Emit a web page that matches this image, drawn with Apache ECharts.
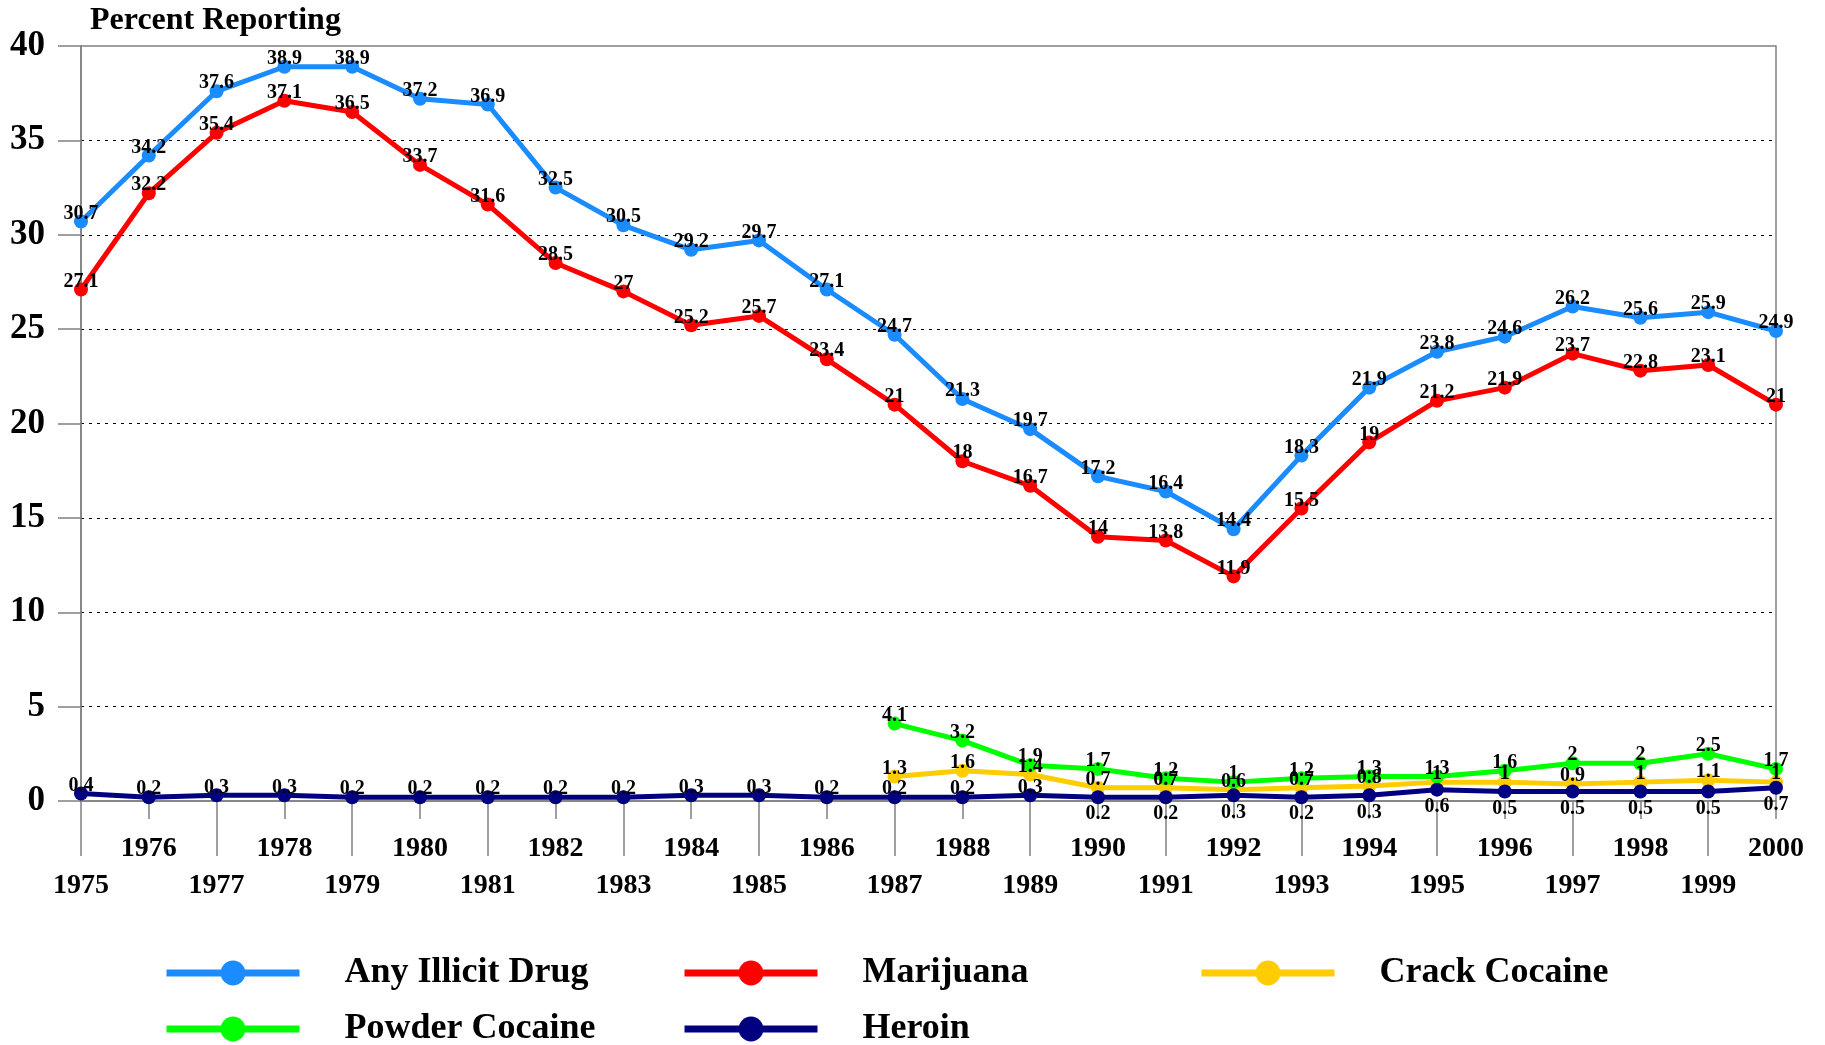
<!DOCTYPE html>
<html>
<head>
<meta charset="utf-8">
<title>Percent Reporting</title>
<script src="https://cdn.jsdelivr.net/npm/echarts@6/dist/echarts.min.js"></script>
<style>
  html, body { margin: 0; padding: 0; background: #fff; }
  #chart { width: 1825px; height: 1045px; }
</style>
</head>
<body>
<div id="chart"></div>
<script>
const years = ['1975', '1976', '1977', '1978', '1979', '1980', '1981', '1982', '1983', '1984',
  '1985', '1986', '1987', '1988', '1989', '1990', '1991', '1992', '1993', '1994',
  '1995', '1996', '1997', '1998', '1999', '2000'];

const anyIllicit = [30.7, 34.2, 37.6, 38.9, 38.9, 37.2, 36.9, 32.5, 30.5, 29.2,
  29.7, 27.1, 24.7, 21.3, 19.7, 17.2, 16.4, 14.4, 18.3, 21.9,
  23.8, 24.6, 26.2, 25.6, 25.9, 24.9];
const marijuana = [27.1, 32.2, 35.4, 37.1, 36.5, 33.7, 31.6, 28.5, 27, 25.2,
  25.7, 23.4, 21, 18, 16.7, 14, 13.8, 11.9, 15.5, 19,
  21.2, 21.9, 23.7, 22.8, 23.1, 21];
const crack = [null, null, null, null, null, null, null, null, null, null,
  null, null, 1.3, 1.6, 1.4, 0.7, 0.7, 0.6, 0.7, 0.8,
  1, 1, 0.9, 1, 1.1, 1];
const powder = [null, null, null, null, null, null, null, null, null, null,
  null, null, 4.1, 3.2, 1.9, 1.7, 1.2, 1, 1.2, 1.3,
  1.3, 1.6, 2, 2, 2.5, 1.7];
const heroin = [0.4, 0.2, 0.3, 0.3, 0.2, 0.2, 0.2, 0.2, 0.2, 0.3,
  0.3, 0.2, 0.2, 0.2, 0.3, 0.2, 0.2, 0.3, 0.2, 0.3,
  0.6, 0.5, 0.5, 0.5, 0.5, 0.7];

const FONT = '"Liberation Serif", "Times New Roman", serif';
const GRAY = '#808080';

const chart = echarts.init(document.getElementById('chart'));

const labelTop = {
  show: true,
  position: 'top',
  distance: -9,
  color: '#000',
  fontFamily: FONT,
  fontWeight: 'bold',
  fontSize: 20
};

function lineSeries(name, color, values, label) {
  return {
    name: name,
    type: 'line',
    data: values,
    symbol: 'circle',
    symbolSize: 14,
    connectNulls: false,
    lineStyle: { color: color, width: 5 },
    itemStyle: { color: color },
    label: label || labelTop,
    emphasis: { disabled: true },
    animation: false
  };
}

// heroin labels go below the points from 1990 on
const heroinData = heroin.map((v, i) => ({
  value: v,
  label: i >= 15 ? { position: 'bottom', distance: 0 } : {}
}));

function legendAt(name, left, top, color) {
  return {
    data: [name],
    left: left,
    top: top,
    itemWidth: 133,
    itemHeight: 31,
    selectedMode: false,
    lineStyle: { width: 7, color: color },
    itemStyle: { color: color },
    textStyle: {
      fontFamily: FONT,
      fontWeight: 'bold',
      fontSize: 36,
      color: '#000',
      padding: [0, 0, 0, 40]
    }
  };
}

const xLabelBase = {
  color: '#000',
  fontFamily: FONT,
  fontWeight: 'bold',
  fontSize: 28
};

chart.setOption({
  backgroundColor: '#fff',
  title: {
    text: 'Percent Reporting',
    left: 90,
    top: 5,
    padding: 0,
    textStyle: { fontFamily: FONT, fontWeight: 'bold', fontSize: 32, color: '#000' }
  },
  grid: {
    left: 81,
    right: 49,
    top: 46,
    bottom: 244,
    show: true,
    borderColor: GRAY,
    borderWidth: 1.5
  },
  legend: [
    legendAt('Any Illicit Drug', 158, 950, '#1a8cff'),
    legendAt('Marijuana', 676, 950, '#ff0000'),
    legendAt('Crack Cocaine', 1193, 950, '#ffcc00'),
    legendAt('Powder Cocaine', 158, 1006, '#00ff00'),
    legendAt('Heroin', 676, 1006, '#000080')
  ],
  xAxis: [
    {
      type: 'category',
      data: years,
      boundaryGap: false,
      axisLine: { lineStyle: { color: GRAY, width: 1.5 } },
      axisTick: {
        length: 55,
        interval: (i) => i % 2 === 0,
        lineStyle: { color: GRAY, width: 1.5 }
      },
      axisLabel: Object.assign({ margin: 71, interval: (i) => i % 2 === 0 }, xLabelBase)
    },
    {
      type: 'category',
      data: years,
      boundaryGap: false,
      position: 'bottom',
      axisLine: { show: false },
      axisTick: {
        length: 18,
        interval: (i) => i % 2 === 1,
        lineStyle: { color: GRAY, width: 1.5 }
      },
      axisLabel: Object.assign({ margin: 34, interval: (i) => i % 2 === 1 }, xLabelBase)
    }
  ],
  yAxis: {
    type: 'value',
    min: 0,
    max: 40,
    interval: 5,
    axisLine: { show: true, lineStyle: { color: GRAY, width: 1.5 } },
    axisTick: { show: true, length: 23, lineStyle: { color: GRAY, width: 1.5 } },
    axisLabel: {
      margin: 36,
      color: '#000',
      fontFamily: FONT,
      fontWeight: 'bold',
      fontSize: 35
    },
    splitLine: {
      show: true,
      showMinLine: false,
      showMaxLine: false,
      lineStyle: { color: '#000', type: [3, 5], width: 1 }
    }
  },
  series: [
    lineSeries('Any Illicit Drug', '#1a8cff', anyIllicit),
    lineSeries('Marijuana', '#ff0000', marijuana),
    lineSeries('Crack Cocaine', '#ffcc00', crack),
    lineSeries('Powder Cocaine', '#00ff00', powder),
    lineSeries('Heroin', '#000080', heroinData)
  ]
});
</script>
</body>
</html>
